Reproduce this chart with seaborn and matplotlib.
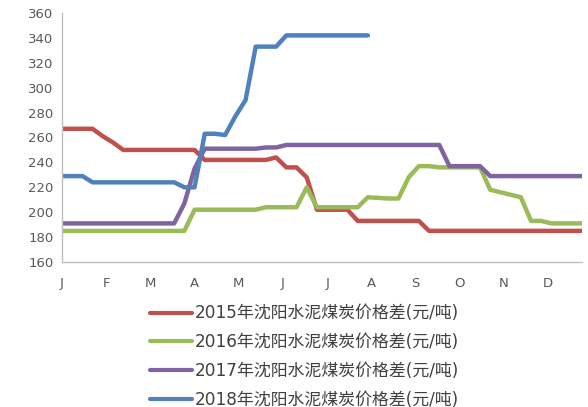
import numpy as np
import pandas as pd
import seaborn as sns
import matplotlib
matplotlib.use("Agg")
import matplotlib.pyplot as plt

# ========================== DATA ==========================
# weekly price spread, 52 weeks per year
months = ['J', 'F', 'M', 'A', 'M', 'J', 'J', 'A', 'S', 'O', 'N', 'D']

s2015 = [267, 267, 267, 267, 261, 256, 250, 250, 250, 250, 250, 250, 250, 250,
         242, 242, 242, 242, 242, 242, 242, 244, 236, 236, 228, 202, 202, 202,
         202, 193, 193, 193, 193, 193, 193, 193, 185, 185, 185, 185, 185, 185,
         185, 185, 185, 185, 185, 185, 185, 185, 185, 185]
s2016 = [185, 185, 185, 185, 185, 185, 185, 185, 185, 185, 185, 185, 185, 202,
         202, 202, 202, 202, 202, 202, 204, 204, 204, 204, 220, 204, 204, 204,
         204, 204, 212, 211.5, 211, 211, 228, 237, 237, 236, 236, 236, 236, 236,
         218, 216, 214, 212, 193, 193, 191, 191, 191, 191]
s2017 = [191, 191, 191, 191, 191, 191, 191, 191, 191, 191, 191, 191, 207, 235,
         251, 251, 251, 251, 251, 251, 252, 252, 254, 254, 254, 254, 254, 254,
         254, 254, 254, 254, 254, 254, 254, 254, 254, 254, 237, 237, 237, 237,
         229, 229, 229, 229, 229, 229, 229, 229, 229, 229]
s2018 = [229, 229, 229, 224, 224, 224, 224, 224, 224, 224, 224, 224, 220, 220,
         263, 263, 262, 277, 290, 333, 333, 333, 342, 342, 342, 342, 342, 342,
         342, 342, 342]

labels = ['2015年沈阳水泥煤炭价格差(元/吨)', '2016年沈阳水泥煤炭价格差(元/吨)',
          '2017年沈阳水泥煤炭价格差(元/吨)', '2018年沈阳水泥煤炭价格差(元/吨)']
colors = ['#C0504D', '#9BBB59', '#8064A2', '#4F81BD']

frames = []
for lab, vals in zip(labels, [s2015, s2016, s2017, s2018]):
    frames.append(pd.DataFrame({'week': np.arange(len(vals)), 'value': vals, 'series': lab}))
df = pd.concat(frames, ignore_index=True)

# ========================== PLOT ==========================
sns.set_style('white')
plt.rcParams['font.family'] = ['DejaVu Sans', 'Noto Sans CJK SC']

fig = plt.figure(figsize=(5.88, 4.07), dpi=100)
ax = fig.add_axes([62 / 588, 1 - 262 / 407, 520 / 588, 249 / 407])

sns.lineplot(data=df, x='week', y='value', hue='series', hue_order=labels,
             palette=colors, linewidth=3.2, ax=ax, legend=False)

ax.set_xlim(0, 51)
ax.set_ylim(160, 360)
ax.set_yticks(range(160, 361, 20))
ax.set_xticks([i * 52 / 12 for i in range(12)])
ax.set_xticklabels(months)
ax.set_xlabel('')
ax.set_ylabel('')

for side in ['top', 'right']:
    ax.spines[side].set_visible(False)
for side in ['left', 'bottom']:
    ax.spines[side].set_color('#BFBFBF')
    ax.spines[side].set_linewidth(1)
ax.tick_params(axis='both', colors='#BFBFBF', labelcolor='#595959', labelsize=9.5)
ax.tick_params(axis='y', length=3, pad=3)
ax.tick_params(axis='x', length=5, pad=6)

# legend below the chart, one entry per row
handles = [plt.Line2D([], [], color=c, linewidth=3, solid_capstyle='round') for c in colors]
fig.legend(handles, labels, loc='upper left', bbox_to_anchor=(150 / 588, 1 - 304.5 / 407),
           frameon=False, fontsize=12.2, labelspacing=0.63, handlelength=2.45,
           handletextpad=0.2, borderpad=0, borderaxespad=0, labelcolor='#404040')

plt.savefig('out.png', dpi=100)
